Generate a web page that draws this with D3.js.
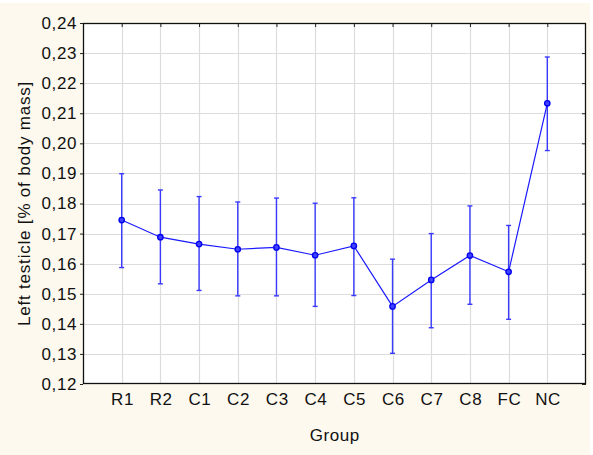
<!DOCTYPE html>
<html><head><meta charset="utf-8">
<script src="https://cdn.jsdelivr.net/npm/d3@7"></script>
<style>body{margin:0;background:#fff}svg{display:block}</style>
</head><body>
<script>
const groups = ["R1","R2","C1","C2","C3","C4","C5","C6","C7","C8","FC","NC"];
const means  = [0.1745,0.1688,0.1665,0.1648,0.1654,0.1628,0.1659,0.1458,0.1546,0.1627,0.1573,0.2133];
const upper  = [0.1899,0.1845,0.1823,0.1805,0.1818,0.1801,0.1819,0.1615,0.1700,0.1792,0.1727,0.2287];
const lower  = [0.1587,0.1533,0.1511,0.1493,0.1493,0.1458,0.1494,0.1302,0.1387,0.1465,0.1415,0.1976];
const yTicks = [0.12,0.13,0.14,0.15,0.16,0.17,0.18,0.19,0.20,0.21,0.22,0.23,0.24];

const W=593,H=455;
const m={l:83,t:23,r:586,b:384};
const svg=d3.select("body").append("svg").attr("width",W).attr("height",H);
svg.append("rect").attr("x",0).attr("y",3).attr("width",590).attr("height",H-3).attr("fill","#fdf9ee");
svg.append("rect").attr("x",m.l).attr("y",m.t).attr("width",m.r-m.l).attr("height",m.b-m.t).attr("fill","#fff");

const x=d3.scalePoint().domain(groups).range([m.l,m.r]).padding(1);
const y=d3.scaleLinear().domain([0.12,0.24]).range([m.b,m.t]);
const fmt=d=>d3.format(".2f")(d).replace(".",",");
const font="Liberation Sans, Arial, sans-serif";

// grid
const g=svg.append("g");
g.selectAll(".gy").data(yTicks.slice(1,-1)).join("line")
 .attr("x1",m.l).attr("x2",m.r).attr("y1",d=>Math.round(y(d))+0.5).attr("y2",d=>Math.round(y(d))+0.5)
 .attr("stroke","#dcdcdc").attr("stroke-width",1.2);
g.selectAll(".gx").data(groups).join("line")
 .attr("x1",d=>Math.round(x(d))+0.5).attr("x2",d=>Math.round(x(d))+0.5).attr("y1",m.t).attr("y2",m.b)
 .attr("stroke","#dcdcdc").attr("stroke-width",1.2);

// axes
const axL=d3.axisLeft(y).tickValues(yTicks).tickFormat(fmt).tickSize(3).tickPadding(3);
const axR=d3.axisLeft(y).tickValues(yTicks).tickFormat("").tickSize(4);
const axB=d3.axisBottom(x).tickSize(0).tickPadding(9);
const axT=d3.axisBottom(x).tickFormat("").tickSize(4);
const aL=svg.append("g").attr("transform",`translate(${m.l},0)`).call(axL);
const aR=svg.append("g").attr("transform",`translate(${m.r},0)`).call(axR);
const aB=svg.append("g").attr("transform",`translate(0,${m.b})`).call(axB);
const aT=svg.append("g").attr("transform",`translate(0,${m.t})`).call(axT);
[aL,aR,aB,aT].forEach(a=>{a.select(".domain").remove();a.selectAll("line").attr("stroke","#222");
 a.selectAll("text").attr("font-family",font).attr("font-size","17px").attr("letter-spacing","0.6px").attr("fill","#111");});
aB.selectAll("text").attr("dx","0.3px");
svg.append("rect").attr("x",m.l+0.5).attr("y",m.t+0.5).attr("width",m.r-m.l-1).attr("height",m.b-m.t-1)
 .attr("fill","none").attr("stroke","#111").attr("stroke-width",1.3);

// error bars
const eb=svg.append("g").attr("stroke","#3a3aff").attr("stroke-width",1.4);
groups.forEach((gname,i)=>{
  const cx=x(gname);
  eb.append("line").attr("x1",cx).attr("x2",cx).attr("y1",y(upper[i])).attr("y2",y(lower[i]));
  eb.append("line").attr("x1",cx-2.5).attr("x2",cx+2.5).attr("y1",y(upper[i])).attr("y2",y(upper[i]));
  eb.append("line").attr("x1",cx-2.5).attr("x2",cx+2.5).attr("y1",y(lower[i])).attr("y2",y(lower[i]));
});
// line
const line=d3.line().x((d,i)=>x(groups[i])).y(d=>y(d));
svg.append("path").datum(means).attr("d",line).attr("fill","none").attr("stroke","#1a1aff").attr("stroke-width",1.2);
svg.selectAll(".pt").data(means).join("circle").attr("cx",(d,i)=>x(groups[i])).attr("cy",d=>y(d))
 .attr("r",2.7).attr("fill","#4040ff").attr("stroke","#0000ee").attr("stroke-width",1.3);

// titles
svg.append("text").attr("x",(m.l+m.r)/2+0.3).attr("y",441).attr("text-anchor","middle")
 .attr("font-family",font).attr("font-size","17px").attr("letter-spacing","0.6px").attr("fill","#111").text("Group");
svg.append("text").attr("transform",`translate(30,${(m.t+m.b)/2}) rotate(-90)`).attr("text-anchor","middle")
 .attr("font-family",font).attr("font-size","17px").attr("letter-spacing","0.8px").attr("fill","#111").text("Left testicle [% of body mass]");
</script>
</body></html>
